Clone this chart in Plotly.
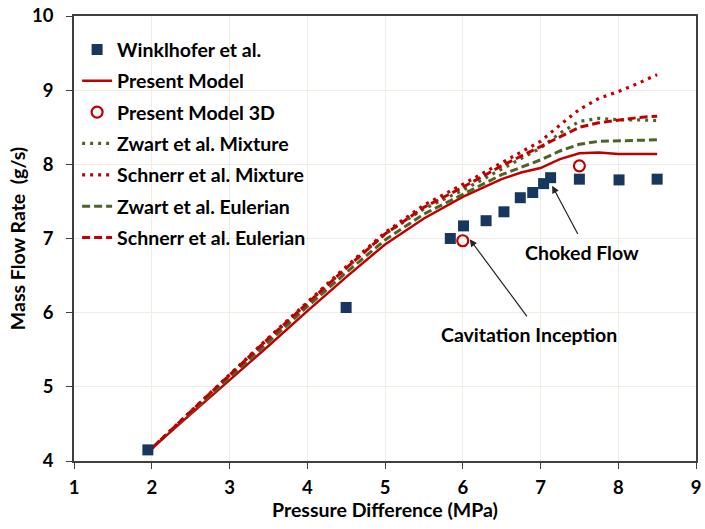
import plotly.graph_objects as go

# Experimental data (Winklhofer et al.)
exp_x = [1.95, 4.5, 5.84, 6.01, 6.30, 6.53, 6.74, 6.90, 7.04, 7.13, 7.50, 8.01, 8.50]
exp_y = [4.15, 6.07, 7.00, 7.17, 7.24, 7.36, 7.55, 7.62, 7.74, 7.82, 7.80, 7.79, 7.80]

# Present Model 3D
m3d_x = [6.0, 7.5]
m3d_y = [6.97, 7.98]

# Model curves
cx = [2.0, 2.5, 3.0, 3.5, 4.0, 4.5, 5.0, 5.5, 6.0, 6.5, 6.75, 7.0, 7.25, 7.5, 7.75, 8.0, 8.25, 8.5]
present = [4.17, 4.63, 5.08, 5.55, 6.02, 6.48, 6.92, 7.27, 7.56, 7.80, 7.89, 7.95, 8.07, 8.15, 8.16, 8.14, 8.14, 8.14]
zwart_mix = [4.17, 4.67, 5.16, 5.65, 6.13, 6.60, 7.06, 7.40, 7.65, 7.93, 8.07, 8.22, 8.42, 8.58, 8.62, 8.60, 8.60, 8.59]
schnerr_mix = [4.17, 4.67, 5.17, 5.66, 6.14, 6.62, 7.08, 7.45, 7.73, 8.02, 8.16, 8.31, 8.53, 8.74, 8.89, 8.98, 9.09, 9.21]
zwart_eul = [4.17, 4.65, 5.13, 5.61, 6.08, 6.54, 6.98, 7.33, 7.60, 7.86, 7.96, 8.06, 8.18, 8.27, 8.31, 8.32, 8.33, 8.33]
schnerr_eul = [4.17, 4.67, 5.16, 5.65, 6.13, 6.60, 7.06, 7.42, 7.69, 7.98, 8.11, 8.24, 8.38, 8.50, 8.56, 8.60, 8.63, 8.65]

x_ticks = [1, 2, 3, 4, 5, 6, 7, 8, 9]
y_ticks = [4, 5, 6, 7, 8, 9, 10]

RED = "#C00000"
GREEN = "#4F6228"
NAVY = "#17375E"
FONT = "Lato"

fig = go.Figure()
# lines first (drawn underneath), markers last
fig.add_trace(go.Scatter(x=cx, y=present, mode="lines", name="Present Model",
                         line=dict(color=RED, width=2.5), legendgroup="b", legendrank=2))
fig.add_trace(go.Scatter(x=cx, y=zwart_mix, mode="lines", name="Zwart et al. Mixture",
                         line=dict(color=GREEN, width=3.2, dash="3px,5px"), legendgroup="d", legendrank=4))
fig.add_trace(go.Scatter(x=cx, y=schnerr_mix, mode="lines", name="Schnerr et al. Mixture",
                         line=dict(color=RED, width=3.2, dash="3px,5px"), legendgroup="e", legendrank=5))
fig.add_trace(go.Scatter(x=cx, y=zwart_eul, mode="lines", name="Zwart et al. Eulerian",
                         line=dict(color=GREEN, width=3, dash="8px,4px"), legendgroup="f", legendrank=6))
fig.add_trace(go.Scatter(x=cx, y=schnerr_eul, mode="lines", name="Schnerr et al. Eulerian",
                         line=dict(color=RED, width=3, dash="8px,4px"), legendgroup="g", legendrank=7))
fig.add_trace(go.Scatter(x=exp_x, y=exp_y, mode="markers", name="Winklhofer et al.",
                         marker=dict(symbol="square", size=11, color=NAVY), legendgroup="a", legendrank=1))
fig.add_trace(go.Scatter(x=m3d_x, y=m3d_y, mode="markers", name="Present Model 3D",
                         marker=dict(symbol="circle-open", size=11, color=RED, line=dict(width=2.2)),
                         legendgroup="c", legendrank=3))

ann_font = dict(family=FONT, size=19.5, color="black", weight="bold")
fig.add_annotation(x=7.15, y=7.71, ax=7.49, ay=7.04, axref="x", ayref="y",
                   showarrow=True, arrowhead=2, arrowsize=1.2, arrowwidth=1.2, arrowcolor="#222222",
                   text="")
fig.add_annotation(x=6.09, y=6.99, ax=6.84, ay=5.93, axref="x", ayref="y",
                   showarrow=True, arrowhead=2, arrowsize=1.2, arrowwidth=1.2, arrowcolor="#222222",
                   text="")
fig.add_annotation(x=7.53, y=6.81, text="Choked Flow", showarrow=False, font=ann_font)
fig.add_annotation(x=6.85, y=5.70, text="Cavitation Inception", showarrow=False, font=ann_font)

axis_common = dict(showline=True, linecolor="#404040", linewidth=1.5, mirror=True,
                   showgrid=True, gridcolor="#EEEDE4", gridwidth=1,
                   ticks="outside", ticklen=6, tickcolor="#404040", tickwidth=1.2,
                   tickfont=dict(family=FONT, size=18.5, color="black", weight="bold"),
                   zeroline=False)

fig.update_xaxes(range=[1, 9], tickvals=x_ticks, ticktext=[str(v) for v in x_ticks],
                 ticklabelstandoff=3,
                 title=dict(text="Pressure Difference (MPa)", standoff=4,
                            font=dict(family=FONT, size=19.5, color="black", weight="bold")),
                 **axis_common)
fig.update_yaxes(range=[4, 10], tickvals=y_ticks, ticktext=[str(v) for v in y_ticks],
                 ticklabelstandoff=9,
                 title=dict(text="Mass Flow Rate  (g/s)", standoff=1,
                            font=dict(family=FONT, size=19.5, color="black", weight="bold")),
                 **axis_common)

fig.update_layout(
    width=705, height=529,
    margin=dict(l=74, r=4, t=12, b=68),
    paper_bgcolor="white", plot_bgcolor="white",
    font=dict(family=FONT, color="black"),
    legend=dict(x=0.005, y=0.968, xanchor="left", yanchor="top",
                traceorder="grouped", tracegroupgap=3, itemwidth=30,
                bgcolor="rgba(0,0,0,0)",
                font=dict(family=FONT, size=19.5, color="black", weight="bold")),
    showlegend=True,
)

fig.write_html("out.html")
